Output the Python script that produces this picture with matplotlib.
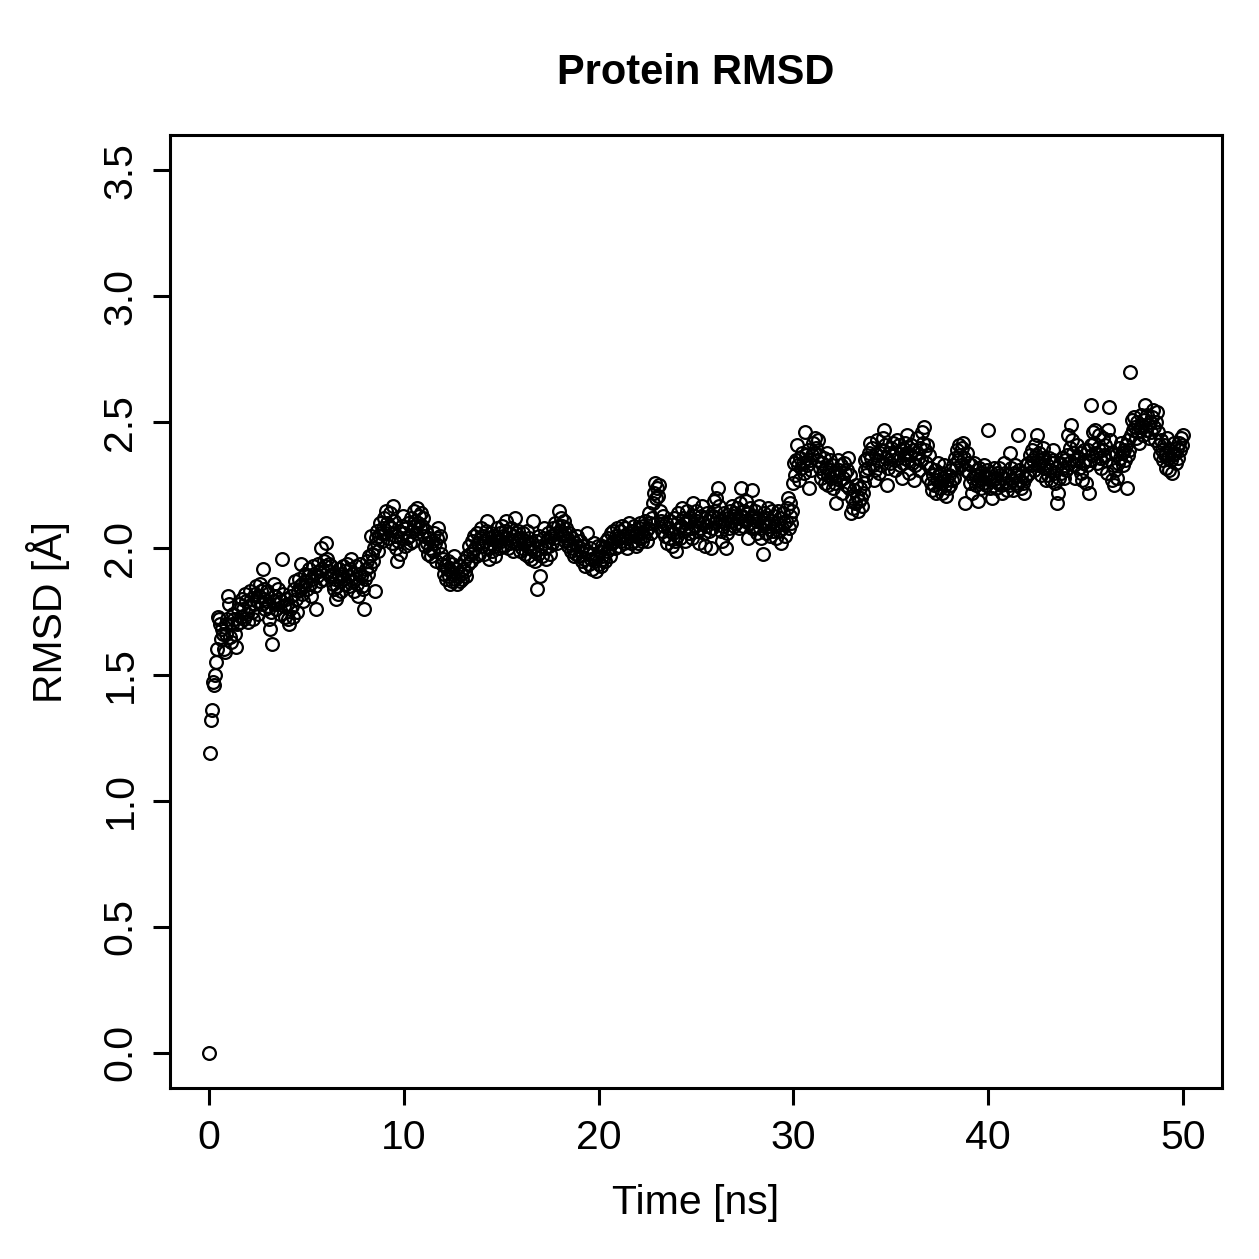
import numpy as np
import matplotlib
matplotlib.use("Agg")
import matplotlib.pyplot as plt

# RMSD trace, one row per ns (20 frames of 0.05 ns each), plus the final frame at 50 ns
rmsd_rows = [
    [0.00, 1.19, 1.32, 1.36, 1.47, 1.46, 1.50, 1.55, 1.60, 1.73, 1.72, 1.70, 1.64, 1.68, 1.66, 1.60, 1.59, 1.66, 1.70, 1.72],
    [1.81, 1.78, 1.65, 1.63, 1.70, 1.74, 1.72, 1.66, 1.61, 1.70, 1.76, 1.78, 1.71, 1.73, 1.80, 1.76, 1.72, 1.82, 1.79, 1.74],
    [1.71, 1.77, 1.83, 1.80, 1.75, 1.72, 1.78, 1.82, 1.85, 1.79, 1.74, 1.81, 1.86, 1.83, 1.78, 1.92, 1.84, 1.80, 1.76, 1.79],
    [1.83, 1.77, 1.72, 1.68, 1.75, 1.62, 1.79, 1.86, 1.81, 1.76, 1.78, 1.84, 1.80, 1.74, 1.79, 1.96, 1.82, 1.77, 1.73, 1.80],
    [1.78, 1.72, 1.70, 1.76, 1.81, 1.77, 1.73, 1.84, 1.87, 1.80, 1.75, 1.83, 1.88, 1.85, 1.94, 1.86, 1.82, 1.79, 1.85, 1.90],
    [1.87, 1.84, 1.89, 1.92, 1.86, 1.81, 1.88, 1.93, 1.90, 1.85, 1.76, 1.89, 1.94, 1.91, 1.87, 2.00, 1.92, 1.88, 1.95, 1.93],
    [2.02, 1.96, 1.91, 1.94, 1.89, 1.93, 1.90, 1.86, 1.84, 1.88, 1.80, 1.85, 1.82, 1.89, 1.92, 1.87, 1.83, 1.90, 1.93, 1.88],
    [1.91, 1.86, 1.94, 1.89, 1.85, 1.92, 1.96, 1.90, 1.87, 1.83, 1.88, 1.93, 1.86, 1.81, 1.90, 1.94, 1.89, 1.85, 1.84, 1.76],
    [1.88, 1.92, 1.95, 1.90, 1.97, 1.93, 2.05, 1.98, 1.95, 2.00, 1.83, 2.04, 2.07, 2.02, 1.99, 2.05, 2.10, 2.06, 2.03, 2.08],
    [2.12, 2.06, 2.15, 2.10, 2.04, 2.09, 2.14, 2.08, 2.02, 2.17, 2.11, 2.05, 2.00, 1.95, 2.03, 2.07, 1.98, 2.04, 2.09, 2.13],
    [2.06, 2.01, 2.08, 2.04, 2.10, 2.05, 2.02, 2.12, 2.07, 2.03, 2.09, 2.15, 2.11, 2.06, 2.16, 2.10, 2.13, 2.08, 2.14, 2.09],
    [2.12, 2.05, 2.01, 2.07, 2.02, 1.98, 2.04, 2.00, 1.97, 2.03, 1.99, 2.06, 2.02, 1.95, 2.04, 2.08, 2.01, 2.05, 1.98, 1.94],
    [1.96, 1.90, 1.93, 1.88, 1.92, 1.95, 1.89, 1.86, 1.91, 1.87, 1.94, 1.90, 1.97, 1.88, 1.92, 1.86, 1.89, 1.93, 1.87, 1.90],
    [1.88, 1.92, 1.95, 1.91, 1.89, 1.97, 1.94, 2.01, 1.98, 1.95, 2.03, 1.99, 2.05, 2.00, 1.97, 2.06, 2.02, 1.98, 2.04, 2.08],
    [2.01, 2.05, 1.98, 2.03, 2.07, 2.11, 2.04, 2.00, 1.96, 2.02, 2.06, 1.99, 2.05, 2.01, 1.97, 2.03, 2.08, 2.04, 2.00, 2.06],
    [2.03, 2.09, 2.05, 2.01, 2.07, 2.11, 2.04, 2.00, 2.06, 2.02, 2.08, 2.03, 1.99, 2.05, 2.12, 2.06, 2.02, 2.07, 2.03, 1.99],
    [2.04, 2.00, 2.06, 2.02, 1.98, 2.03, 2.07, 2.01, 1.97, 2.04, 2.00, 1.96, 2.02, 2.11, 1.99, 1.95, 2.03, 1.84, 1.98, 2.05],
    [1.89, 2.01, 1.97, 2.04, 2.08, 2.00, 1.96, 2.03, 2.06, 2.01, 1.98, 2.05, 2.02, 2.08, 2.04, 2.10, 2.06, 2.02, 2.09, 2.15],
    [2.07, 2.12, 2.09, 2.05, 2.11, 2.06, 2.03, 2.08, 2.04, 2.01, 2.06, 2.02, 1.99, 2.04, 2.00, 1.97, 2.02, 1.98, 2.05, 2.01],
    [1.97, 2.03, 1.99, 1.95, 2.01, 1.96, 1.93, 1.99, 2.06, 1.98, 1.94, 2.00, 1.96, 1.92, 1.98, 2.02, 1.95, 1.91, 1.97, 2.01],
    [1.94, 1.99, 1.93, 1.97, 2.01, 1.96, 2.00, 1.95, 2.03, 1.99, 2.04, 2.00, 1.97, 2.06, 2.02, 2.07, 2.03, 2.00, 2.05, 2.08],
    [2.04, 2.01, 2.07, 2.03, 2.09, 2.05, 2.02, 2.08, 2.04, 2.00, 2.06, 2.10, 2.05, 2.02, 2.07, 2.03, 2.09, 2.05, 2.01, 2.06],
    [2.02, 2.08, 2.04, 2.10, 2.06, 2.03, 2.09, 2.05, 2.11, 2.07, 2.03, 2.08, 2.14, 2.10, 2.06, 2.12, 2.18, 2.22, 2.26, 2.20],
    [2.24, 2.21, 2.25, 2.15, 2.11, 2.07, 2.13, 2.09, 2.05, 2.10, 2.02, 2.08, 2.04, 2.11, 2.07, 2.01, 2.06, 2.12, 2.03, 1.99],
    [2.05, 2.10, 2.14, 2.08, 2.04, 2.09, 2.16, 2.12, 2.07, 2.03, 2.10, 2.15, 2.11, 2.06, 2.12, 2.08, 2.04, 2.18, 2.13, 2.09],
    [2.15, 2.11, 2.07, 2.02, 2.08, 2.13, 2.17, 2.10, 2.06, 2.01, 2.09, 2.14, 2.11, 2.07, 2.12, 2.00, 2.08, 2.13, 2.19, 2.10],
    [2.15, 2.20, 2.12, 2.24, 2.17, 2.11, 2.07, 2.03, 2.09, 2.14, 2.10, 2.00, 2.06, 2.12, 2.08, 2.15, 2.11, 2.17, 2.13, 2.09],
    [2.14, 2.10, 2.16, 2.12, 2.08, 2.18, 2.24, 2.13, 2.09, 2.15, 2.11, 2.19, 2.14, 2.04, 2.10, 2.16, 2.12, 2.08, 2.23, 2.13],
    [2.09, 2.15, 2.11, 2.06, 2.12, 2.17, 2.08, 2.04, 2.10, 1.98, 2.14, 2.10, 2.06, 2.12, 2.16, 2.09, 2.05, 2.11, 2.15, 2.07],
    [2.13, 2.09, 2.04, 2.10, 2.15, 2.07, 2.12, 2.02, 2.08, 2.14, 2.10, 2.05, 2.11, 2.16, 2.20, 2.08, 2.13, 2.18, 2.10, 2.15],
    [2.26, 2.34, 2.29, 2.35, 2.41, 2.33, 2.27, 2.36, 2.32, 2.38, 2.34, 2.30, 2.46, 2.37, 2.33, 2.39, 2.24, 2.35, 2.31, 2.37],
    [2.42, 2.38, 2.44, 2.40, 2.35, 2.43, 2.37, 2.32, 2.28, 2.34, 2.30, 2.36, 2.26, 2.32, 2.38, 2.29, 2.25, 2.31, 2.35, 2.28],
    [2.33, 2.24, 2.30, 2.26, 2.18, 2.29, 2.35, 2.31, 2.27, 2.33, 2.22, 2.28, 2.34, 2.30, 2.25, 2.31, 2.36, 2.24, 2.29, 2.14],
    [2.20, 2.16, 2.23, 2.18, 2.25, 2.21, 2.15, 2.19, 2.24, 2.20, 2.17, 2.22, 2.26, 2.31, 2.35, 2.29, 2.36, 2.32, 2.38, 2.42],
    [2.36, 2.40, 2.33, 2.27, 2.31, 2.37, 2.43, 2.35, 2.30, 2.38, 2.33, 2.39, 2.44, 2.47, 2.41, 2.36, 2.25, 2.32, 2.38, 2.34],
    [2.40, 2.37, 2.42, 2.35, 2.31, 2.38, 2.43, 2.36, 2.41, 2.33, 2.39, 2.28, 2.34, 2.40, 2.36, 2.42, 2.38, 2.45, 2.35, 2.30],
    [2.37, 2.41, 2.34, 2.39, 2.27, 2.33, 2.38, 2.44, 2.36, 2.31, 2.40, 2.35, 2.46, 2.42, 2.48, 2.39, 2.34, 2.41, 2.28, 2.37],
    [2.32, 2.26, 2.23, 2.29, 2.25, 2.31, 2.22, 2.27, 2.34, 2.29, 2.24, 2.30, 2.26, 2.22, 2.28, 2.33, 2.25, 2.21, 2.27, 2.24],
    [2.29, 2.25, 2.31, 2.27, 2.33, 2.28, 2.36, 2.32, 2.39, 2.35, 2.41, 2.37, 2.33, 2.40, 2.42, 2.36, 2.18, 2.31, 2.38, 2.34],
    [2.30, 2.26, 2.33, 2.22, 2.28, 2.34, 2.29, 2.25, 2.31, 2.19, 2.27, 2.32, 2.28, 2.24, 2.30, 2.26, 2.33, 2.29, 2.25, 2.31],
    [2.47, 2.28, 2.24, 2.30, 2.20, 2.27, 2.32, 2.28, 2.24, 2.30, 2.26, 2.32, 2.29, 2.25, 2.22, 2.28, 2.34, 2.30, 2.26, 2.23],
    [2.29, 2.25, 2.38, 2.32, 2.27, 2.23, 2.30, 2.26, 2.33, 2.29, 2.25, 2.45, 2.31, 2.27, 2.24, 2.30, 2.26, 2.22, 2.28, 2.33],
    [2.29, 2.34, 2.30, 2.37, 2.33, 2.39, 2.35, 2.31, 2.41, 2.37, 2.45, 2.33, 2.38, 2.34, 2.29, 2.35, 2.40, 2.36, 2.32, 2.27],
    [2.33, 2.29, 2.36, 2.31, 2.27, 2.34, 2.39, 2.35, 2.30, 2.26, 2.32, 2.18, 2.22, 2.28, 2.34, 2.30, 2.36, 2.32, 2.28, 2.35],
    [2.31, 2.37, 2.45, 2.34, 2.40, 2.49, 2.43, 2.38, 2.33, 2.28, 2.35, 2.41, 2.36, 2.32, 2.38, 2.30, 2.27, 2.34, 2.39, 2.35],
    [2.26, 2.33, 2.39, 2.22, 2.35, 2.57, 2.41, 2.37, 2.46, 2.42, 2.47, 2.38, 2.34, 2.40, 2.45, 2.36, 2.32, 2.39, 2.44, 2.37],
    [2.41, 2.35, 2.30, 2.47, 2.56, 2.43, 2.38, 2.27, 2.33, 2.25, 2.31, 2.37, 2.28, 2.34, 2.40, 2.36, 2.42, 2.38, 2.33, 2.39],
    [2.35, 2.41, 2.24, 2.37, 2.43, 2.39, 2.70, 2.45, 2.51, 2.47, 2.52, 2.48, 2.44, 2.50, 2.46, 2.42, 2.48, 2.53, 2.49, 2.45],
    [2.51, 2.57, 2.47, 2.53, 2.49, 2.44, 2.50, 2.46, 2.52, 2.55, 2.48, 2.43, 2.50, 2.54, 2.46, 2.41, 2.37, 2.43, 2.39, 2.35],
    [2.41, 2.37, 2.32, 2.38, 2.44, 2.36, 2.31, 2.39, 2.35, 2.30, 2.37, 2.42, 2.38, 2.34, 2.40, 2.36, 2.42, 2.39, 2.44, 2.41],
]
rmsd_last = [2.45]

rmsd = np.array([v for row in rmsd_rows for v in row] + rmsd_last)
time_ns = np.arange(len(rmsd)) * 0.05

x_ticks = [0, 10, 20, 30, 40, 50]
y_ticks = [0.0, 0.5, 1.0, 1.5, 2.0, 2.5, 3.0, 3.5]

plt.rcParams['font.family'] = ['Liberation Sans', 'DejaVu Sans']

W = 1259
fig = plt.figure(figsize=(12.59, 12.59), dpi=100)
ax = fig.add_axes([170 / W, 1 - 1088 / W, (1222 - 170) / W, (1088 - 135) / W])

ax.plot(time_ns, rmsd, linestyle='none', marker='o', markersize=9.2,
        markerfacecolor='none', markeredgecolor='black', markeredgewidth=1.6)

ax.set_xlim(-2, 52)
ax.set_ylim(-0.14, 3.64)
ax.set_xticks(x_ticks)
ax.set_xticklabels([str(t) for t in x_ticks])
ax.set_yticks(y_ticks)
ax.set_yticklabels([f"{t:.1f}" for t in y_ticks])

for s in ax.spines.values():
    s.set_linewidth(2.2)
ax.tick_params(axis='both', direction='out', length=12, width=2.2, labelsize=29.5, colors='black')
ax.tick_params(axis='x', pad=10)
ax.tick_params(axis='y', pad=10)
plt.setp(ax.get_yticklabels(), rotation=90, va='center', ha='right')

fig.text(696 / W, 1 - 84 / W, "Protein RMSD", ha='center', va='baseline',
         fontsize=30, fontweight='bold')
fig.text(696 / W, 1 - 1214 / W, "Time [ns]", ha='center', va='baseline', fontsize=29.5)
fig.text(62 / W, 1 - 612 / W, "RMSD [Å]", ha='center', va='baseline', fontsize=29.5,
         rotation=90, rotation_mode='anchor')

fig.savefig("out.png", dpi=100)
